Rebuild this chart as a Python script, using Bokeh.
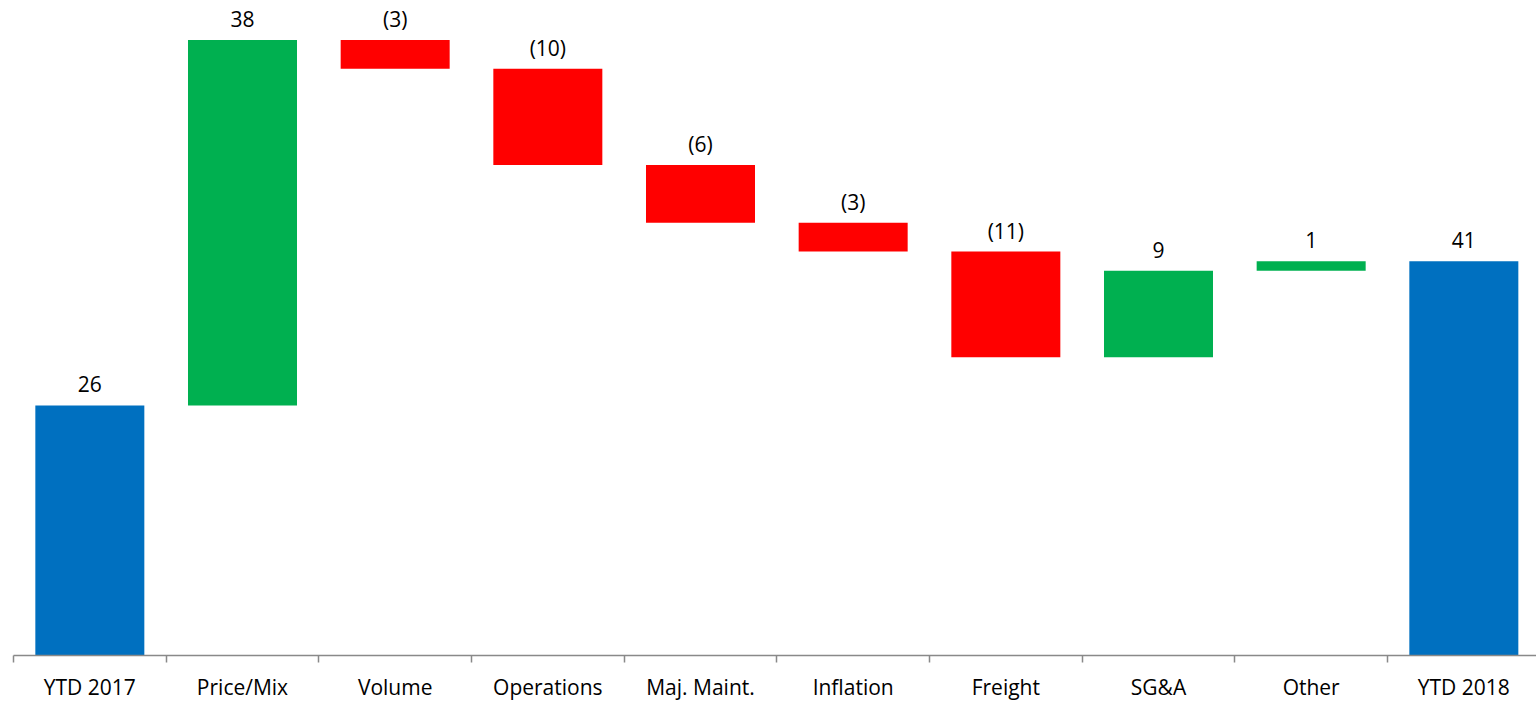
from bokeh.plotting import figure
from bokeh.models import FixedTicker, ColumnDataSource, Range1d
from bokeh.embed import file_html
from bokeh.resources import INLINE
from bokeh.core.properties import value

categories = ["YTD 2017", "Price/Mix", "Volume", "Operations", "Maj. Maint.",
              "Inflation", "Freight", "SG&A", "Other", "YTD 2018"]
amounts = [26, 38, -3, -10, -6, -3, -11, 9, 1, 41]
kinds = ["total", "delta", "delta", "delta", "delta",
         "delta", "delta", "delta", "delta", "total"]

BLUE, GREEN, RED = "#0070C0", "#00B050", "#FF0000"

xs, bottoms, tops, colors, labels = [], [], [], [], []
running = 0
for i, (v, k) in enumerate(zip(amounts, kinds)):
    xs.append(i + 1)
    if k == "total":
        b, t = 0, v
        running = v
        colors.append(BLUE)
    else:
        b, t = running, running + v
        running = t
        colors.append(GREEN if v >= 0 else RED)
    bottoms.append(min(b, t))
    tops.append(max(b, t))
    labels.append(str(v) if v >= 0 else "(%d)" % (-v))

src = ColumnDataSource(dict(x=xs, bottom=bottoms, top=tops, color=colors, label=labels))

p = figure(width=1536, height=703, output_backend="svg", toolbar_location=None,
           x_range=Range1d(0.5, 10.476), y_range=Range1d(0, 68.1),
           y_axis_location=None, min_border_left=13, min_border_right=0,
           min_border_top=0, min_border_bottom=48)
p.outline_line_color = None
p.xgrid.visible = False
p.ygrid.visible = False

p.vbar(x="x", bottom="bottom", top="top", width=0.714, color="color", source=src,
       line_color=None)
p.text(x="x", y="top", text="label", source=src, text_align="center",
       text_baseline="middle", y_offset=-21, text_font=value("Open Sans"),
       text_font_size="21px", text_color="#000000")

ax = p.xaxis[0]
ax.ticker = FixedTicker(ticks=xs, minor_ticks=[i + 0.5 for i in range(len(categories) + 1)])
ax.major_label_overrides = {x: c for x, c in zip(xs, categories)}
ax.major_tick_out = 0
ax.major_tick_in = 0
ax.minor_tick_out = 7
ax.minor_tick_in = 0
ax.minor_tick_line_color = "#898989"
ax.axis_line_color = "#898989"
ax.axis_line_width = 1.5
ax.minor_tick_line_width = 1.5
ax.major_label_standoff = 10
ax.major_label_text_font = "Open Sans"
ax.major_label_text_font_size = "21px"
ax.major_label_text_color = "#000000"

open("out.html", "w").write(file_html(p, INLINE))
